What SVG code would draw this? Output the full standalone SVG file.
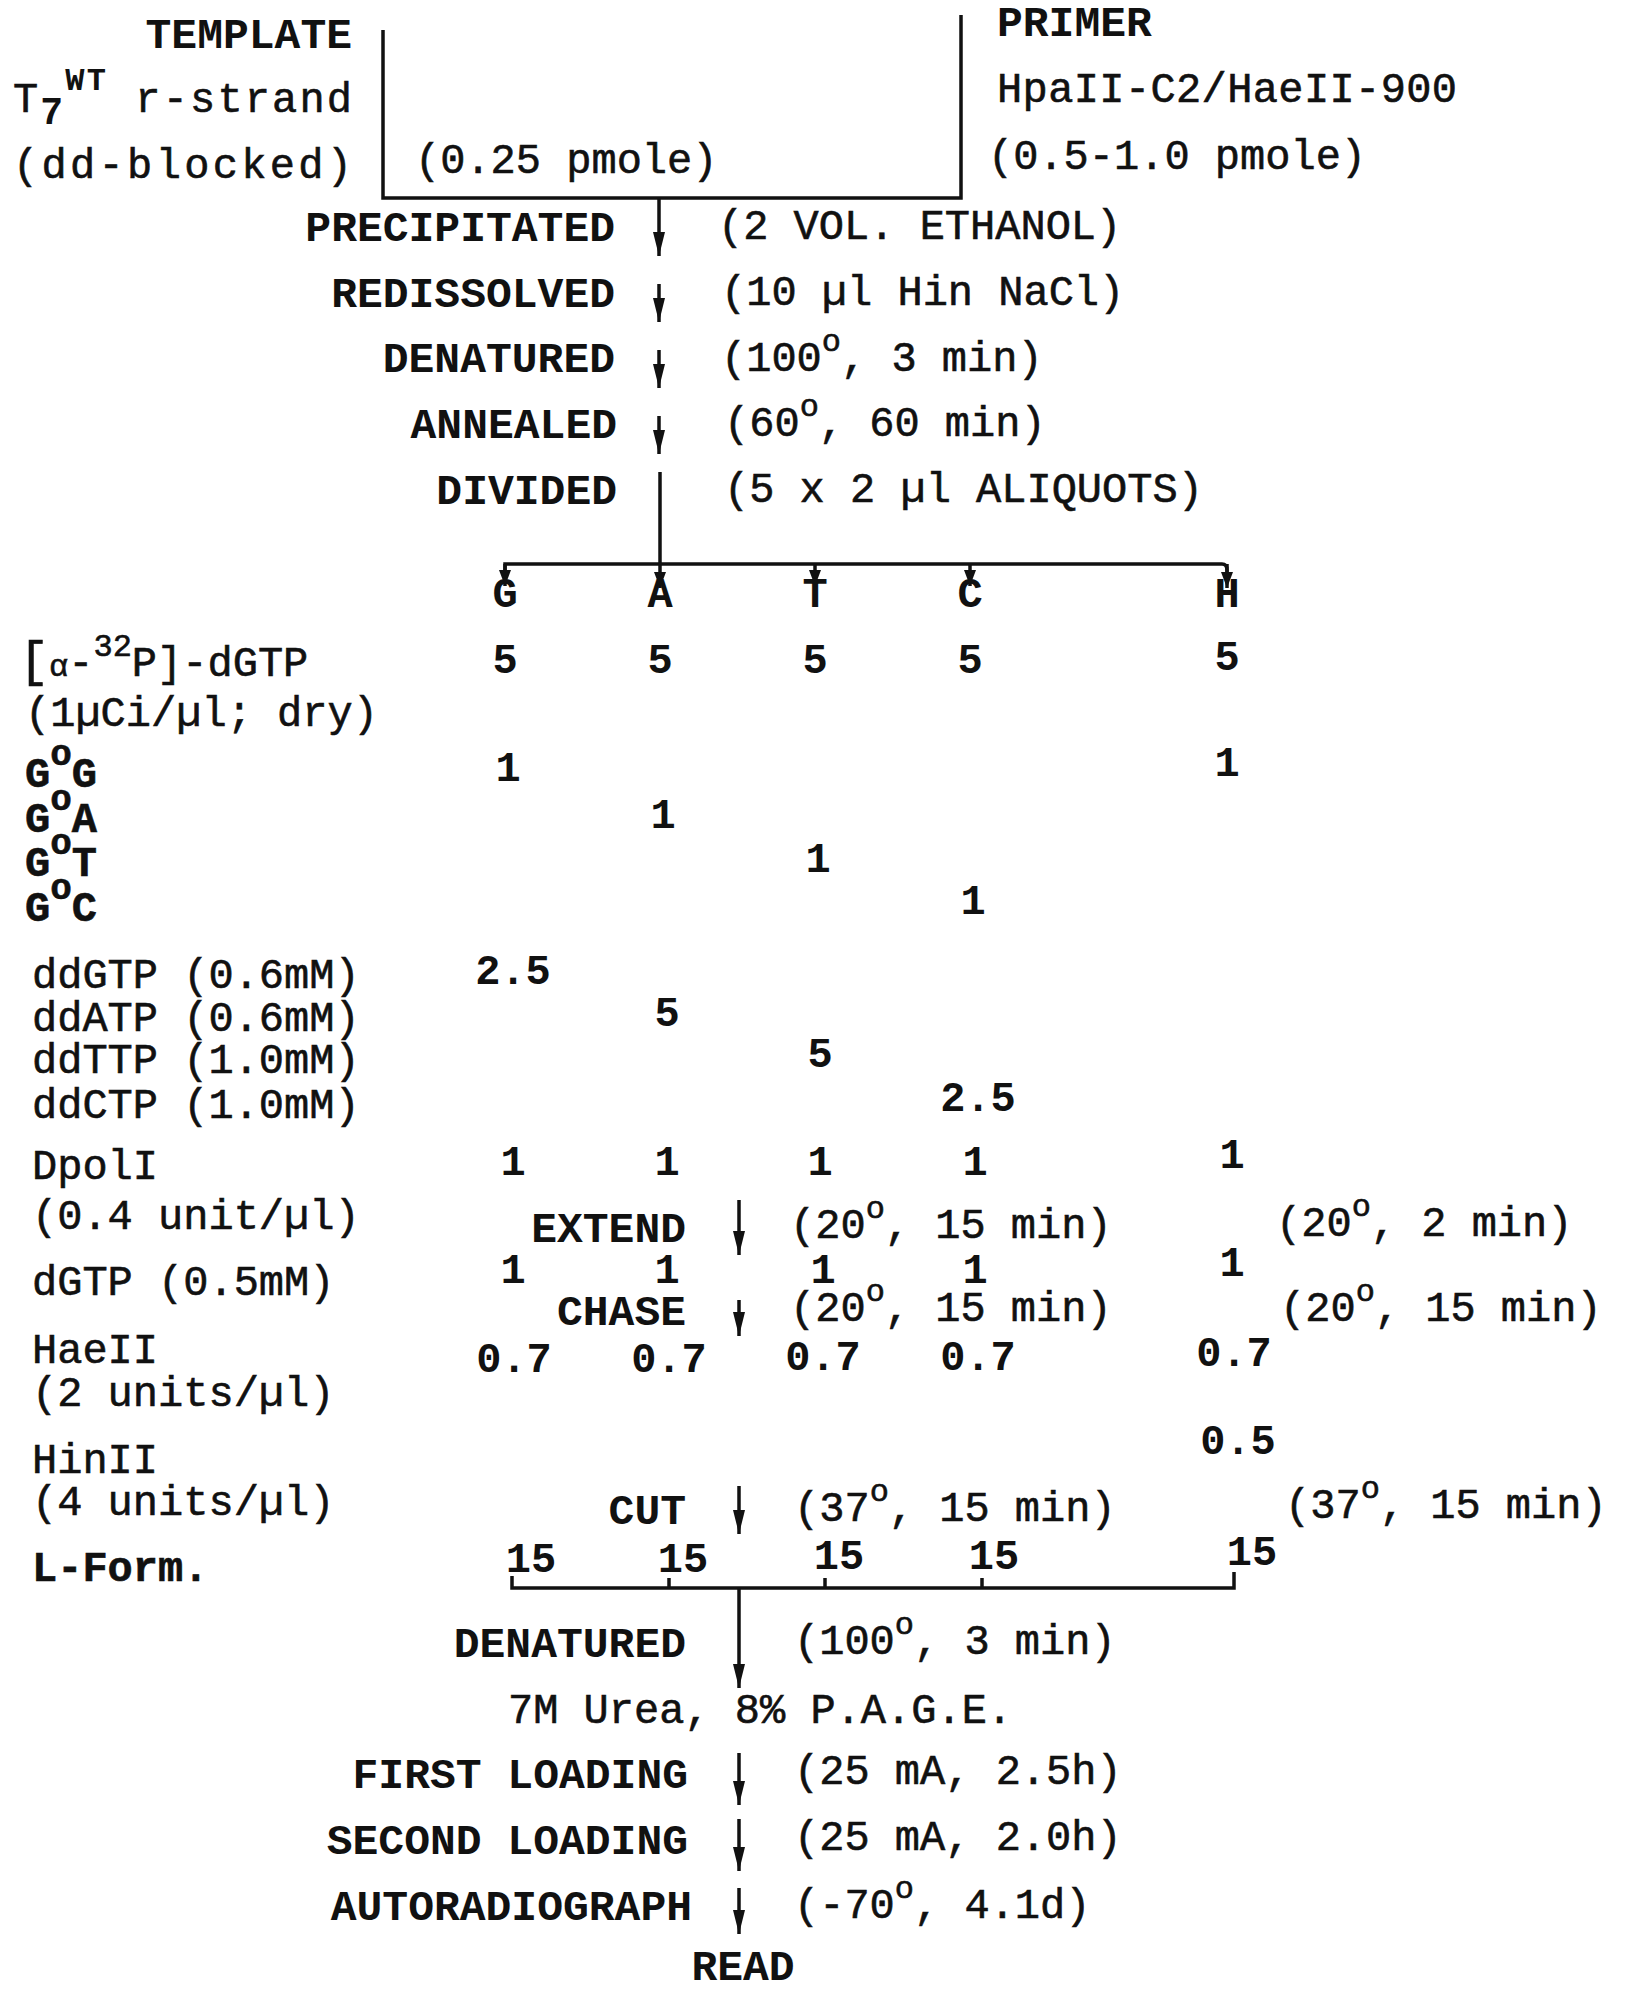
<svg xmlns="http://www.w3.org/2000/svg" width="1632" height="1992" viewBox="0 0 1632 1992">
<style>
text { font-family: "Liberation Mono", "Courier New", monospace; font-size: 42px; fill: #111; stroke: #111; stroke-width: 0.6px; }
.b { font-weight: bold; font-size: 43px; stroke-width: 0; }
.n { font-weight: bold; text-anchor: middle; stroke-width: 0; }
.e { text-anchor: end; }
.m { text-anchor: middle; }
.dg { font-size: 32px; }
.ln { stroke: #111; stroke-width: 3.5; fill: none; }
</style>
<defs>
<marker id="ah" viewBox="0 0 24 12" refX="24" refY="6" markerWidth="24" markerHeight="12" markerUnits="userSpaceOnUse" orient="auto">
<path d="M0,0 L24,6 L0,12 z" fill="#111"/>
</marker>
<marker id="sh" viewBox="0 0 16 12" refX="16" refY="6" markerWidth="16" markerHeight="12" markerUnits="userSpaceOnUse" orient="auto">
<path d="M0,0 L16,6 L0,12 z" fill="#111"/>
</marker>
</defs>

<g id="connectors">
<path class="ln" d="M383,30 V198 H961 V15"/>
<line class="ln" x1="659" y1="198" x2="659" y2="256" marker-end="url(#ah)"/>
<line class="ln" x1="659" y1="284" x2="659" y2="322" marker-end="url(#ah)"/>
<line class="ln" x1="659" y1="350" x2="659" y2="388" marker-end="url(#ah)"/>
<line class="ln" x1="659" y1="416" x2="659" y2="454" marker-end="url(#ah)"/>
<line class="ln" x1="660" y1="472" x2="660" y2="565"/>
<path class="ln" d="M505,580 V564 H1222 Q1227,564 1227,570 V580"/>
<line class="ln" x1="505" y1="564" x2="505" y2="586" marker-end="url(#sh)"/>
<line class="ln" x1="660" y1="564" x2="660" y2="588" marker-end="url(#sh)"/>
<line class="ln" x1="815" y1="564" x2="815" y2="586" marker-end="url(#sh)"/>
<line class="ln" x1="970" y1="564" x2="970" y2="586" marker-end="url(#sh)"/>
<line class="ln" x1="1227" y1="564" x2="1227" y2="588" marker-end="url(#sh)"/>

<line class="ln" x1="739" y1="1200" x2="739" y2="1255" marker-end="url(#ah)"/>
<line class="ln" x1="739" y1="1300" x2="739" y2="1336" marker-end="url(#ah)"/>
<line class="ln" x1="739" y1="1486" x2="739" y2="1534" marker-end="url(#ah)"/>

<path class="ln" d="M512,1576 V1588 H1234 V1572"/>
<line class="ln" x1="669" y1="1588" x2="669" y2="1578"/>
<line class="ln" x1="825" y1="1588" x2="825" y2="1578"/>
<line class="ln" x1="982" y1="1588" x2="982" y2="1578"/>
<line class="ln" x1="739" y1="1588" x2="739" y2="1688" marker-end="url(#ah)"/>

<line class="ln" x1="739" y1="1753" x2="739" y2="1805" marker-end="url(#ah)"/>
<line class="ln" x1="739" y1="1819" x2="739" y2="1871" marker-end="url(#ah)"/>
<line class="ln" x1="739" y1="1888" x2="739" y2="1934" marker-end="url(#ah)"/>
</g>

<g id="template">
<text class="b e" x="352" y="48">TEMPLATE</text>
<text x="13" y="112" textLength="339" lengthAdjust="spacing">T<tspan dy="12" font-size="38" font-weight="bold" stroke-width="0">7</tspan><tspan dy="-34" font-size="32" font-weight="bold" stroke-width="0">WT</tspan><tspan dy="22"> r-strand</tspan></text>
<text x="13" y="178" textLength="339" lengthAdjust="spacing">(dd-blocked)</text>
<text x="415" y="173">(0.25 pmole)</text>
</g>

<g id="primer">
<text class="b" x="997" y="36">PRIMER</text>
<text x="997" y="102" textLength="460" lengthAdjust="spacing">HpaII-C2/HaeII-900</text>
<text x="988" y="169">(0.5-1.0 pmole)</text>
</g>

<g id="steps-top">
<text class="b e" x="615" y="241">PRECIPITATED</text>
<text x="718" y="239">(2 VOL. ETHANOL)</text>
<text class="b e" x="615" y="307">REDISSOLVED</text>
<text x="721" y="305">(10 µl Hin NaCl)</text>
<text class="b e" x="615" y="372">DENATURED</text>
<text x="721" y="371">(100<tspan class="dg" dy="-20">o</tspan><tspan dy="20">, 3 min)</tspan></text>
<text class="b e" x="617" y="438">ANNEALED</text>
<text x="724" y="436">(60<tspan class="dg" dy="-20">o</tspan><tspan dy="20">, 60 min)</tspan></text>
<text class="b e" x="617" y="504">DIVIDED</text>
<text x="724" y="502">(5 x 2 µl ALIQUOTS)</text>
</g>

<g id="columns">
<text class="n" x="505" y="607">G</text>
<text class="n" x="660" y="607">A</text>
<text class="n" x="815" y="607">T</text>
<text class="n" x="970" y="607">C</text>
<text class="n" x="1227" y="607">H</text>
</g>

<g id="reagents">
<text x="19" y="676"><tspan font-size="50">[</tspan><tspan font-size="32">α</tspan>-<tspan dy="-20" font-size="32">32</tspan><tspan dy="20">P]</tspan>-dGTP</text>
<text x="25" y="726">(1µCi/µl; dry)</text>
<text font-weight="bold" x="25" y="787">G<tspan dy="-22" font-size="36">o</tspan><tspan dy="22">G</tspan></text>
<text font-weight="bold" x="25" y="832">G<tspan dy="-22" font-size="36">o</tspan><tspan dy="22">A</tspan></text>
<text font-weight="bold" x="25" y="876">G<tspan dy="-22" font-size="36">o</tspan><tspan dy="22">T</tspan></text>
<text font-weight="bold" x="25" y="921">G<tspan dy="-22" font-size="36">o</tspan><tspan dy="22">C</tspan></text>
<text x="32" y="988">ddGTP (0.6mM)</text>
<text x="32" y="1031">ddATP (0.6mM)</text>
<text x="32" y="1073">ddTTP (1.0mM)</text>
<text x="32" y="1118">ddCTP (1.0mM)</text>
<text x="32" y="1179">DpolI</text>
<text x="32" y="1229">(0.4 unit/µl)</text>
<text x="32" y="1295">dGTP (0.5mM)</text>
<text x="32" y="1363">HaeII</text>
<text x="32" y="1406">(2 units/µl)</text>
<text x="32" y="1473">HinII</text>
<text x="32" y="1515">(4 units/µl)</text>
<text font-weight="bold" x="32" y="1581">L-Form.</text>
</g>

<g id="values">
<text class="n" x="505" y="673">5</text>
<text class="n" x="660" y="673">5</text>
<text class="n" x="815" y="673">5</text>
<text class="n" x="970" y="673">5</text>
<text class="n" x="1227" y="670">5</text>
<text class="n" x="508" y="781">1</text>
<text class="n" x="1227" y="776">1</text>
<text class="n" x="663" y="828">1</text>
<text class="n" x="818" y="872">1</text>
<text class="n" x="973" y="914">1</text>
<text class="n" x="513" y="984">2.5</text>
<text class="n" x="667" y="1026">5</text>
<text class="n" x="820" y="1067">5</text>
<text class="n" x="978" y="1111">2.5</text>
<text class="n" x="513" y="1175">1</text>
<text class="n" x="667" y="1175">1</text>
<text class="n" x="820" y="1175">1</text>
<text class="n" x="975" y="1175">1</text>
<text class="n" x="1232" y="1168">1</text>
<text class="n" x="513" y="1283">1</text>
<text class="n" x="667" y="1283">1</text>
<text class="n" x="823" y="1283">1</text>
<text class="n" x="975" y="1283">1</text>
<text class="n" x="1232" y="1276">1</text>
<text class="n" x="514" y="1372">0.7</text>
<text class="n" x="669" y="1372">0.7</text>
<text class="n" x="823" y="1370">0.7</text>
<text class="n" x="978" y="1370">0.7</text>
<text class="n" x="1234" y="1366">0.7</text>
<text class="n" x="1238" y="1454">0.5</text>
<text class="n" x="531" y="1572">15</text>
<text class="n" x="683" y="1572">15</text>
<text class="n" x="839" y="1569">15</text>
<text class="n" x="994" y="1569">15</text>
<text class="n" x="1252" y="1565">15</text>
</g>

<g id="steps-mid">
<text class="b e" x="686" y="1242">EXTEND</text>
<text x="790" y="1238">(20<tspan class="dg" dy="-20">o</tspan><tspan dy="20">, 15 min)</tspan></text>
<text x="1276" y="1236">(20<tspan class="dg" dy="-20">o</tspan><tspan dy="20">, 2 min)</tspan></text>
<text class="b e" x="686" y="1325">CHASE</text>
<text x="790" y="1321">(20<tspan class="dg" dy="-20">o</tspan><tspan dy="20">, 15 min)</tspan></text>
<text x="1280" y="1321">(20<tspan class="dg" dy="-20">o</tspan><tspan dy="20">, 15 min)</tspan></text>
<text class="b e" x="686" y="1524">CUT</text>
<text x="794" y="1521">(37<tspan class="dg" dy="-20">o</tspan><tspan dy="20">, 15 min)</tspan></text>
<text x="1285" y="1518">(37<tspan class="dg" dy="-20">o</tspan><tspan dy="20">, 15 min)</tspan></text>
</g>

<g id="steps-bottom">
<text class="b e" x="686" y="1657">DENATURED</text>
<text x="794" y="1654">(100<tspan class="dg" dy="-20">o</tspan><tspan dy="20">, 3 min)</tspan></text>
<text x="508" y="1723">7M Urea, 8% P.A.G.E.</text>
<text class="b e" x="688" y="1788">FIRST LOADING</text>
<text x="794" y="1784">(25 mA, 2.5h)</text>
<text class="b e" x="688" y="1854">SECOND LOADING</text>
<text x="794" y="1850">(25 mA, 2.0h)</text>
<text class="b e" x="692" y="1920">AUTORADIOGRAPH</text>
<text x="794" y="1918">(-70<tspan class="dg" dy="-20">o</tspan><tspan dy="20">, 4.1d)</tspan></text>
<text class="b m" x="743" y="1980">READ</text>
</g>
</svg>
